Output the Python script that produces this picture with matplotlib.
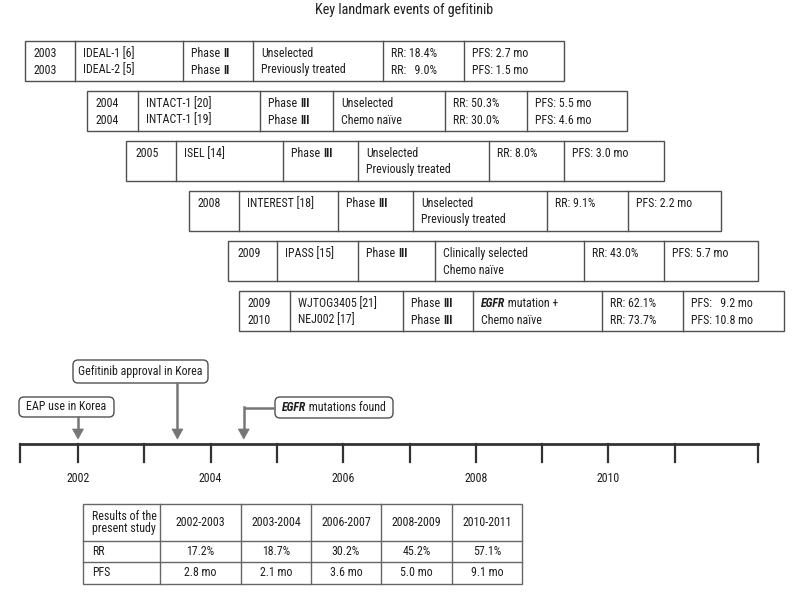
import matplotlib
matplotlib.use("Agg")
import matplotlib.pyplot as plt
from matplotlib import font_manager as fm
from matplotlib.patches import Rectangle, FancyBboxPatch, Polygon

# ---------------- data ----------------
title = "Key landmark events of gefitinib"

trial_years = [["2003", "2003"], ["2004", "2004"], ["2005"], ["2008"], ["2009"], ["2009", "2010"]]
trial_names = [["IDEAL-1 [6]", "IDEAL-2 [5]"], ["INTACT-1 [20]", "INTACT-1 [19]"], ["ISEL [14]"],
               ["INTEREST [18]"], ["IPASS [15]"], ["WJTOG3405 [21]", "NEJ002 [17]"]]
trial_phases = [["II", "II"], ["III", "III"], ["III"], ["III"], ["III"], ["III", "III"]]
trial_population = [["Unselected", "Previously treated"], ["Unselected", "Chemo naïve"],
                    ["Unselected", "Previously treated"], ["Unselected", "Previously treated"],
                    ["Clinically selected", "Chemo naïve"], ["EGFR mutation +", "Chemo naïve"]]
trial_rr = [["RR: 18.4%", "RR:   9.0%"], ["RR: 50.3%", "RR: 30.0%"], ["RR: 8.0%"], ["RR: 9.1%"],
            ["RR: 43.0%"], ["RR: 62.1%", "RR: 73.7%"]]
trial_pfs = [["PFS: 2.7 mo", "PFS: 1.5 mo"], ["PFS: 5.5 mo", "PFS: 4.6 mo"], ["PFS: 3.0 mo"],
             ["PFS: 2.2 mo"], ["PFS: 5.7 mo"], ["PFS:   9.2 mo", "PFS: 10.8 mo"]]

timeline_years = list(range(2002, 2012))
timeline_labels = ["2002", "2004", "2006", "2008", "2010"]
event_labels = ["EAP use in Korea", "Gefitinib approval in Korea", "EGFR mutations found"]
event_years = [2002.0, 2003.5, 2004.5]

table_header = [["Results of the", "present study"], "2002-2003", "2003-2004", "2006-2007", "2008-2009", "2010-2011"]
table_rr = ["RR", "17.2%", "18.7%", "30.2%", "45.2%", "57.1%"]
table_pfs = ["PFS", "2.8 mo", "2.1 mo", "3.6 mo", "5.0 mo", "9.1 mo"]

# ---------------- fonts ----------------
names = {f.name for f in fm.fontManager.ttflist}
FONT = "Liberation Sans"
for cand in ["Roboto Condensed", "Archivo Narrow", "PT Sans Narrow", "IBM Plex Sans Condensed",
             "Liberation Sans Narrow", "Barlow Semi Condensed", "Encode Sans Condensed",
             "Open Sans Condensed", "Asap Condensed", "Fira Sans Condensed"]:
    if cand in names:
        FONT = cand
        break
FAM = [FONT, "DejaVu Sans"]

TXT = "#1e1e1e"
EDGE = "#505050"
ARROW = "#767676"

fig = plt.figure(figsize=(7.92, 6.03), dpi=100)
ax = fig.add_axes([0, 0, 1, 1])
ax.set_xlim(0, 792)
ax.set_ylim(603, 0)
ax.axis("off")
fig.canvas.draw()
renderer = fig.canvas.get_renderer()


def measure(txt, size, **kw):
    t = ax.text(0, 0, txt, fontsize=size, family=FAM, **kw)
    w = t.get_window_extent(renderer).width
    t.remove()
    return w


# size the fonts so that text widths roughly match the reference
FS = min(10 * 84.0 / measure("Previously treated", 10), 10.5)
TFS = min(10 * 178.0 / measure(title, 10), 11.5)


def rich(x, y, pieces):
    for txt, w, s in pieces:
        t = ax.text(x, y, txt, fontsize=FS, family=FAM, fontweight=w,
                    fontstyle=s, color=TXT, ha="left", va="center")
        x += t.get_window_extent(renderer).width  # 1 data unit == 1 pixel
    return x


def plain(x, y, txt, ha="left"):
    ax.text(x, y, txt, fontsize=FS, family=FAM, color=TXT, ha=ha, va="center")


ax.text(404, 10, title, fontsize=TFS, family=FAM, color=TXT, ha="center", va="center")

# ---------------- trial boxes ----------------
box_tops = [41, 91, 141, 191, 241, 291]
box_cols = [[25, 75, 183, 253, 383, 464, 564],
            [87, 138, 260, 333, 445, 527, 627],
            [126, 176, 283, 358, 489, 564, 664],
            [189, 239, 338, 413, 547, 628, 721],
            [228, 277, 358, 435, 584, 664, 758],
            [239, 290, 403, 473, 602, 683, 784]]
BOX_H = 40
PAD = 8

for i in range(len(box_tops)):
    top = box_tops[i]
    cols = box_cols[i]
    ax.add_patch(Rectangle((cols[0], top), cols[-1] - cols[0], BOX_H, fill=False,
                           edgecolor=EDGE, lw=1.0))
    for cx in cols[1:-1]:
        ax.plot([cx, cx], [top, top + BOX_H], color=EDGE, lw=1.0)
    line_y = [top + 12.5, top + 29]
    for j, yr in enumerate(trial_years[i]):
        plain(cols[0] + PAD + 1, line_y[j], yr)
    for j, nm in enumerate(trial_names[i]):
        plain(cols[1] + PAD, line_y[j], nm)
    for j, ph in enumerate(trial_phases[i]):
        rich(cols[2] + PAD, line_y[j], [("Phase ", "normal", "normal"), (ph, "bold", "normal")])
    for j, pop in enumerate(trial_population[i]):
        if pop.startswith("EGFR"):
            rich(cols[3] + PAD, line_y[j], [("EGFR", "bold", "italic"), (pop[4:], "normal", "normal")])
        else:
            plain(cols[3] + PAD, line_y[j], pop)
    for j, rr in enumerate(trial_rr[i]):
        plain(cols[4] + PAD, line_y[j], rr)
    for j, pf in enumerate(trial_pfs[i]):
        plain(cols[5] + PAD, line_y[j], pf)

# ---------------- timeline ----------------
X2002, PER_YEAR = 78, 66.3
LINE_Y, TICK_Y = 444, 462
START, END = 2001.13, 2012.25


def yx(year):
    return X2002 + (year - 2002) * PER_YEAR


ax.plot([yx(START), yx(END)], [LINE_Y, LINE_Y], color="#333333", lw=2.0, solid_capstyle="projecting")
for yr in [START] + timeline_years + [END]:
    ax.plot([yx(yr), yx(yr)], [LINE_Y, TICK_Y], color="#333333", lw=1.6)
for lab in timeline_labels:
    plain(yx(int(lab)), 478, lab, ha="center")

# event callouts
call_boxes = [(19, 397, 95, 20), (73, 360, 135, 23), (275, 397, 118, 21)]
TIP_Y = 439
for k, (lab, yr) in enumerate(zip(event_labels, event_years)):
    bx, by, bw, bh = call_boxes[k]
    ax.add_patch(FancyBboxPatch((bx, by), bw, bh, boxstyle="round,pad=0,rounding_size=5",
                                fill=True, facecolor="white", edgecolor=EDGE, lw=1.0))
    px = yx(yr)
    mid = by + bh / 2
    if lab.startswith("EGFR"):
        ax.plot([bx, px], [mid, mid], color=ARROW, lw=1.8, solid_capstyle="butt")
        ax.plot([px, px], [mid - 0.9, TIP_Y - 9], color=ARROW, lw=1.8)
        w = measure("EGFR", FS, fontweight="bold", fontstyle="italic") + measure(lab[4:], FS)
        rich(bx + bw / 2 - w / 2, mid, [("EGFR", "bold", "italic"), (lab[4:], "normal", "normal")])
    else:
        ax.plot([px, px], [by + bh, TIP_Y - 9], color=ARROW, lw=1.8)
        plain(bx + bw / 2, mid, lab, ha="center")
    ax.add_patch(Polygon([[px - 5.5, TIP_Y - 10], [px + 5.5, TIP_Y - 10], [px, TIP_Y]],
                         closed=True, facecolor=ARROW, edgecolor=ARROW, lw=0.5))

# ---------------- table ----------------
tcols = [83, 160, 241, 311, 381, 452, 522]
trows = [504, 541, 562, 584]
TAB = "#666666"
ax.add_patch(Rectangle((tcols[0], trows[0]), tcols[-1] - tcols[0], trows[-1] - trows[0],
                       fill=False, edgecolor=TAB, lw=1.0))
for cx in tcols[1:-1]:
    ax.plot([cx, cx], [trows[0], trows[-1]], color=TAB, lw=1.0)
for ry in trows[1:-1]:
    ax.plot([tcols[0], tcols[-1]], [ry, ry], color=TAB, lw=1.0)
for r, row in enumerate([table_header, table_rr, table_pfs]):
    yc = (trows[r] + trows[r + 1]) / 2
    for c, val in enumerate(row):
        if c == 0:
            if isinstance(val, list):
                plain(tcols[0] + 9, yc - 6, val[0])
                plain(tcols[0] + 9, yc + 6, val[1])
            else:
                plain(tcols[0] + 9, yc, val)
        else:
            plain((tcols[c] + tcols[c + 1]) / 2, yc, val, ha="center")

fig.savefig("out.png", dpi=100)
